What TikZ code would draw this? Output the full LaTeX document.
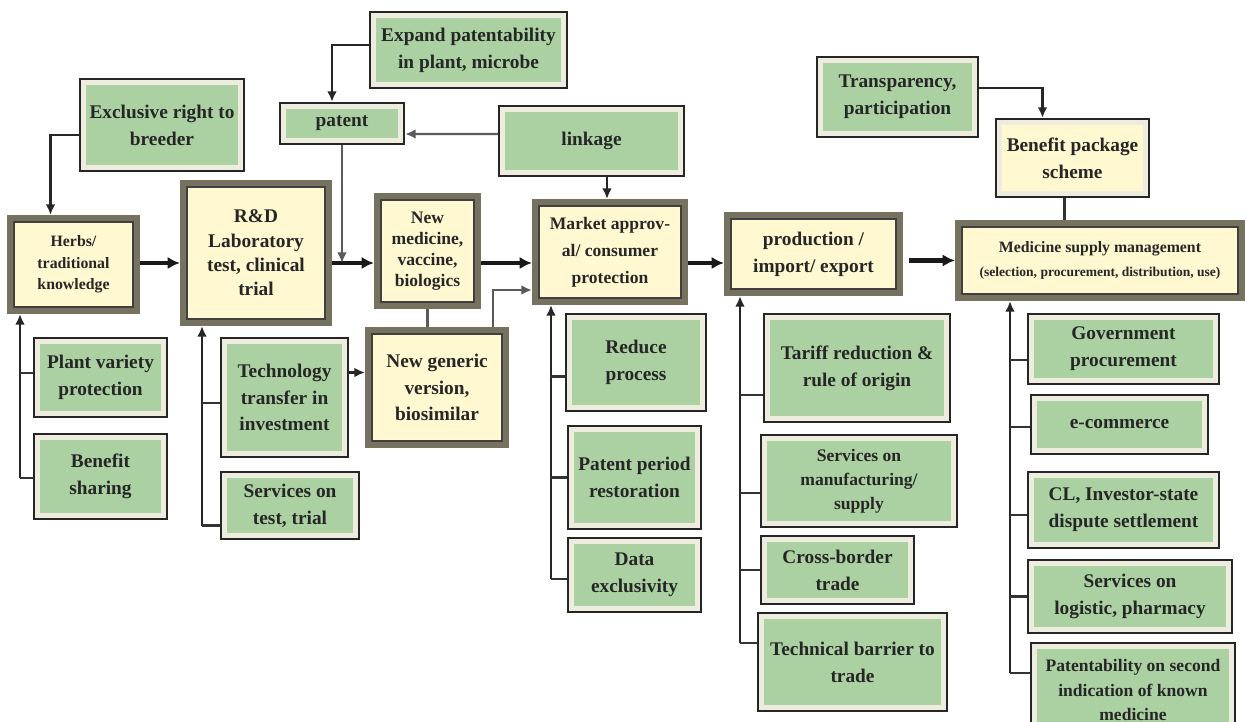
\documentclass[tikz,border=0pt]{standalone}
\usepackage{fontspec}
\setmainfont{Liberation Serif}
\usetikzlibrary{positioning,calc,arrows,arrows.meta}

\definecolor{boxgreen}{HTML}{ABD1A3}
\definecolor{boxmat}{HTML}{EEEBDF}
\definecolor{boxcream}{HTML}{FFF8D0}
\definecolor{boxframe}{HTML}{77725F}
\definecolor{linkgray}{HTML}{5A5A5A}
\definecolor{inktext}{HTML}{262626}

\tikzset{
  greenbox/.style={draw=black!85, line width=1.3pt, fill=boxmat, align=center, text=inktext,
    inner sep=1pt, font=\bfseries\fontsize{11}{15.3}\selectfont,
    path picture={\fill[boxgreen] ([shift={(3.5pt,-3.5pt)}]path picture bounding box.north west)
      rectangle ([shift={(-3.5pt,3.5pt)}]path picture bounding box.south east);}},
  creambox/.style={draw=black!85, line width=1.3pt, fill=boxmat, align=center, text=inktext,
    inner sep=1pt, font=\bfseries\fontsize{11}{15.3}\selectfont,
    path picture={\fill[boxcream] ([shift={(3.5pt,-3.5pt)}]path picture bounding box.north west)
      rectangle ([shift={(-3.5pt,3.5pt)}]path picture bounding box.south east);}},
  stagebox/.style={draw=boxframe, line width=3.5pt, fill=boxcream, align=center, text=inktext,
    inner sep=1pt,
    path picture={\draw[black!75, line width=1pt] ([shift={(2.4pt,-2.4pt)}]path picture bounding box.north west)
      rectangle ([shift={(-2.4pt,2.4pt)}]path picture bounding box.south east);}},
  flow/.style={-{Latex[length=7pt,width=7pt]}, line width=2.3pt, black!90},
  link/.style={-{Latex[length=6pt,width=5.5pt]}, line width=1.2pt, black!85},
  glink/.style={-{Latex[length=6pt,width=5.5pt]}, line width=1.2pt, linkgray},
  bus/.style={line width=1.2pt, black!80},
}

\begin{document}
\begin{tikzpicture}[x=0.02cm, y=-0.02cm]
\useasboundingbox[fill=white] (0,0) rectangle (1247,722);

% main chain
\node[stagebox, font=\bfseries\fontsize{9}{12.2}\selectfont, minimum width=2.54cm, minimum height=1.86cm] (herbs) at (73.5,264.5) {Herbs/\\traditional\\knowledge};
\node[stagebox, font=\bfseries\fontsize{11}{13.8}\selectfont, minimum width=2.92cm, minimum height=2.80cm] (rd) at (256,253) {R\&D\\Laboratory\\test, clinical\\trial};
\node[stagebox, font=\bfseries\fontsize{10}{12}\selectfont, minimum width=2.02cm, minimum height=2.20cm] (newmed) at (427.5,251) {New\\medicine,\\vaccine,\\biologics};
\node[stagebox, font=\bfseries\fontsize{11}{15.3}\selectfont, minimum width=2.76cm, minimum height=2.30cm] (generic) at (437,387.5) {New generic\\version,\\biosimilar};
\node[stagebox, font=\bfseries\fontsize{10}{15.3}\selectfont, minimum width=3.00cm, minimum height=2.00cm] (market) at (610,252) {Market approv-\\al/ consumer\\protection};
\node[stagebox, font=\bfseries\fontsize{11}{15.3}\selectfont, minimum width=3.46cm, minimum height=1.56cm] (prod) at (813.5,254) {production /\\import/ export};
\node[stagebox, font=\bfseries\fontsize{9}{14}\selectfont, minimum width=5.68cm, minimum height=1.50cm] (supply) at (1100,260.5) {Medicine supply management\\{\fontsize{7.7}{14}\selectfont (selection, procurement, distribution, use)}};
\node[creambox, minimum width=3.06cm, minimum height=1.56cm] (benefit) at (1072.5,158) {Benefit package\\scheme};

% upper inputs
\node[greenbox, minimum width=3.28cm, minimum height=1.84cm] (excl) at (162,125) {Exclusive right to\\breeder};
\node[greenbox, minimum width=3.94cm, minimum height=1.52cm] (expand) at (468.5,50) {Expand patentability\\in plant, microbe};
\node[greenbox, minimum width=2.48cm, minimum height=0.82cm] (patent) at (342,123.5) {patent};
\node[greenbox, minimum width=3.70cm, minimum height=1.40cm] (linkage) at (591.5,141) {linkage};
\node[greenbox, minimum width=3.22cm, minimum height=1.60cm] (transp) at (897.5,97) {Transparency,\\participation};

% lower inputs
\node[greenbox, minimum width=2.66cm, minimum height=1.58cm] (plant) at (100.5,377.5) {Plant variety\\protection};
\node[greenbox, minimum width=2.66cm, minimum height=1.70cm] (bshare) at (100.5,476.5) {Benefit\\sharing};
\node[greenbox, minimum width=2.54cm, minimum height=2.38cm] (tech) at (284.5,397.5) {Technology\\transfer in\\investment};
\node[greenbox, minimum width=2.76cm, minimum height=1.34cm] (svtest) at (290,505.5) {Services on\\test, trial};
\node[greenbox, minimum width=2.80cm, minimum height=1.94cm] (reduce) at (636,362.5) {Reduce\\process};
\node[greenbox, minimum width=2.66cm, minimum height=2.06cm] (period) at (634.5,477.5) {Patent period\\restoration};
\node[greenbox, minimum width=2.66cm, minimum height=1.48cm] (data) at (634.5,575) {Data\\exclusivity};
\node[greenbox, minimum width=3.72cm, minimum height=2.16cm] (tariff) at (857,368) {Tariff reduction \&\\rule of origin};
\node[greenbox, font=\bfseries\fontsize{10}{13.7}\selectfont, minimum width=3.92cm, minimum height=1.84cm] (manuf) at (859,481) {Services on\\manufacturing/\\supply};
\node[greenbox, minimum width=3.06cm, minimum height=1.36cm] (cross) at (837.5,570) {Cross-border\\trade};
\node[greenbox, minimum width=3.78cm, minimum height=1.96cm] (tbt) at (852.5,662) {Technical barrier to\\trade};
\node[greenbox, minimum width=3.82cm, minimum height=1.40cm] (gov) at (1123.5,349) {Government\\procurement};
\node[greenbox, minimum width=3.54cm, minimum height=1.18cm] (ecom) at (1119.5,424.5) {e-commerce};
\node[greenbox, minimum width=3.82cm, minimum height=1.52cm] (cl) at (1123.5,510) {CL, Investor-state\\dispute settlement};
\node[greenbox, minimum width=4.08cm, minimum height=1.46cm] (logist) at (1130,596.5) {Services on\\logistic, pharmacy};
\node[greenbox, font=\bfseries\fontsize{10}{13.7}\selectfont, minimum width=4.08cm, minimum height=1.88cm] (patsec) at (1133,690) {Patentability on second\\indication of known\\medicine};

% main flow
\coordinate (mainrow) at (0,263);
\draw[flow] (herbs.east |- mainrow) -- (rd.west |- mainrow);
\draw[flow] (rd.east |- mainrow) -- (newmed.west |- mainrow);
\draw[flow] (newmed.east |- mainrow) -- (market.west |- mainrow);
\draw[flow] (market.east |- mainrow) -- (prod.west |- mainrow);
\draw[flow] ($(supply.west -| prod.east)+(6,0)$) -- (supply.west);

% upper links
\draw[link] ($(excl.west)+(0,10)$) -| ($(herbs.north)+(-23,0)$);
\draw[link] ($(expand.west)+(0,-5)$) -| ($(patent.north)+(-10,0)$);
\draw[glink] ($(linkage.west)+(0,-7)$) -- ($(patent.east)+(0,10.5)$);
\draw[glink] (patent.south) -- (patent.south |- mainrow);
\draw[link] ($(market.north |- linkage.south)+(-3,0)$) -- ($(market.north)+(-3,0)$);
\draw[link] ($(transp.east)+(0,-9)$) -| ($(benefit.north)+(-30,0)$);
\draw[bus] ($(benefit.south)+(-8,0)$) -- ($(benefit.south |- supply.north)+(-8,0)$);
\draw[glink, -] (newmed.south) -- (newmed.south |- generic.north);
\draw[glink] ($(generic.north)+(56,0)$) |- ($(market.west)+(0,38)$);
\draw[link] ($(tech.east)+(0,-25)$) -- ($(generic.west)+(0,-15)$);

% buses from below
\coordinate (busA) at (20,0);
\coordinate (busB) at (202,0);
\coordinate (busC) at (551,0);
\coordinate (busD) at (740,0);
\coordinate (busE) at (1010,0);

\draw[link] ($(bshare.west -| busA)+(0,1.5)$) -- (herbs.south -| busA);
\draw[bus] ($(plant.west)+(0,-4.5)$) -- ($(plant.west -| busA)+(0,-4.5)$);
\draw[bus] ($(bshare.west)+(0,1.5)$) -- ($(bshare.west -| busA)+(0,1.5)$);

\draw[link] ($(svtest.west -| busB)+(0,20)$) -- (rd.south -| busB);
\draw[bus] ($(tech.west)+(0,5.5)$) -- ($(tech.west -| busB)+(0,5.5)$);
\draw[bus] ($(svtest.west)+(0,20)$) -- ($(svtest.west -| busB)+(0,20)$);

\draw[link] ($(data.west -| busC)+(0,4)$) -- (market.south -| busC);
\draw[bus] ($(reduce.west)+(0,14)$) -- ($(reduce.west -| busC)+(0,14)$);
\draw[bus] (period.west) -- (period.west -| busC);
\draw[bus] ($(data.west)+(0,4)$) -- ($(data.west -| busC)+(0,4)$);

\draw[link] ($(tbt.west -| busD)+(0,-19)$) -- (prod.south -| busD);
\draw[bus] ($(tariff.west)+(0,27)$) -- ($(tariff.west -| busD)+(0,27)$);
\draw[bus] ($(manuf.west)+(0,12)$) -- ($(manuf.west -| busD)+(0,12)$);
\draw[bus] (cross.west) -- (cross.west -| busD);
\draw[bus] ($(tbt.west)+(0,-19)$) -- ($(tbt.west -| busD)+(0,-19)$);

\draw[link] ($(patsec.west -| busE)+(0,-17)$) -- (supply.south -| busE);
\draw[bus] ($(gov.west)+(0,11)$) -- ($(gov.west -| busE)+(0,11)$);
\draw[bus] ($(ecom.west)+(0,2.5)$) -- ($(ecom.west -| busE)+(0,2.5)$);
\draw[bus] ($(cl.west)+(0,5)$) -- ($(cl.west -| busE)+(0,5)$);
\draw[bus] (logist.west) -- (logist.west -| busE);
\draw[bus] ($(patsec.west)+(0,-17)$) -- ($(patsec.west -| busE)+(0,-17)$);
\end{tikzpicture}
\end{document}
